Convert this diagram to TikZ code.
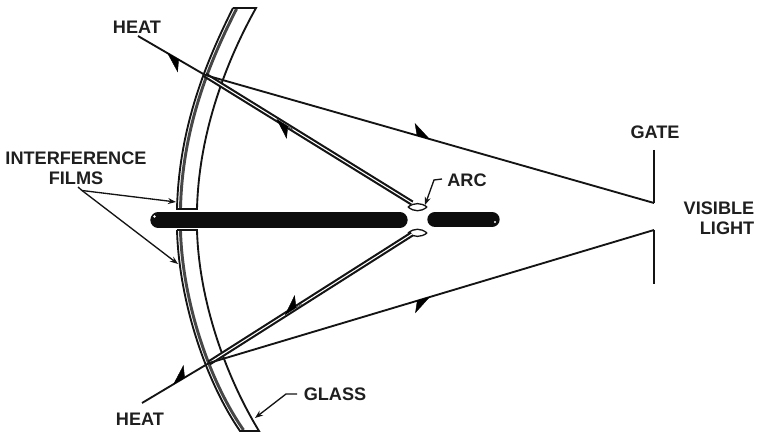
\documentclass[tikz,border=0pt]{standalone}
\usepackage{fontspec}
\setmainfont{Liberation Sans}
\usetikzlibrary{arrows.meta,calc}
\tikzset{
  x=0.75pt,y=-0.75pt,
  ink/.style={line width=1.4pt,black!92},
  thin ink/.style={line width=1pt,black!92},
  lab/.style={font=\fontsize{13.6}{15}\selectfont\bfseries,align=center,inner sep=0pt,text=black!88},
  tip/.style={-{Stealth[length=6pt,width=4.5pt]}},
  film/.style={line width=2.2pt,black!72},
  twin/.style={double=white,double distance=0.8pt,line width=1.6pt,black!92},
  barb/.style={line width=0.3pt,-{Stealth[harpoon,length=14pt,width=17pt,inset=4pt]}},
  barbs/.style={line width=0.3pt,-{Stealth[harpoon,swap,length=14pt,width=17pt,inset=4pt]}}
}
\begin{document}
\begin{tikzpicture}
\useasboundingbox (0,0) rectangle (762,434);
\coordinate (ta) at (233,8); \coordinate (tb) at (256,8);
\coordinate (tc) at (197,209); \coordinate (td) at (177,209);
\coordinate (ba) at (177,230); \coordinate (bb) at (197,230);
\coordinate (bc) at (259,431); \coordinate (bd) at (240,431);
\coordinate (hot) at (205,75); \coordinate (hob) at (209,363);
\coordinate (heatT) at (138,36); \coordinate (heatB) at (142,403);
\coordinate (gt0) at (654,150); \coordinate (gt1) at (654,203);
\coordinate (gb0) at (654,230); \coordinate (gb1) at (654,284);
\coordinate (arcT) at (412,203); \coordinate (arcB) at (412,234);
% mirrors
\draw[film] (236.5,9) .. controls (211.5,58) and (182.5,125) .. (180.5,208);
\draw[film] (180.5,231) .. controls (182.5,300) and (208.5,380) .. (243.5,430);
\draw[ink] (ta) -- (tb) .. controls (228,58) and (199,130) .. (tc) -- (td) .. controls (179,125) and (208,58) .. (ta);
\draw[ink] (ba) -- (bb) .. controls (199,300) and (225,375) .. (bc) -- (bd) .. controls (205,380) and (179,300) .. (ba);
% rods
\draw[line width=11.5pt,line cap=round,black!95] (158,220) -- (400,220);
\draw[line width=11.5pt,line cap=round,black!95] (435,219.5) -- (492,219.5);
\fill[white] (154.5,216.5) circle (1.4);
\fill[white] (495,222) circle (1.2);
% arc shields
\draw[thin ink] (408,207) .. controls (414,202.5) and (421,202.5) .. (427,207);
\draw[thin ink] (408,207) .. controls (414,212) and (421,212) .. (427,207);
\draw[thin ink] (408,233) .. controls (414,237.5) and (421,237.5) .. (427,233);
\draw[thin ink] (408,233) .. controls (414,228) and (421,228) .. (427,233);
% rays
\draw[twin] (hot) -- (arcT);
\draw[twin] (hob) -- (arcB);
\draw[ink] (heatT) -- (hot);
\draw[ink] (heatB) -- (hob);
\draw[ink] (hot) -- (gt1);
\draw[ink] (hob) -- (gb0);
\draw[ink] (gt0) -- (gt1);
\draw[ink] (gb0) -- (gb1);
% arrowheads
\draw[barb] ($(hot)!0.307!(heatT)$) -- ($(hot)!0.567!(heatT)$);
\draw[barb] ($(arcT)!0.575!(hot)$) -- ($(arcT)!0.655!(hot)$);
\draw[barbs] ($(hob)!0.277!(heatB)$) -- ($(hob)!0.537!(heatB)$);
\draw[barbs] ($(arcB)!0.544!(hob)$) -- ($(arcB)!0.627!(hob)$);
\draw[barb] ($(hot)!0.45!(gt1)$) -- ($(hot)!0.501!(gt1)$);
\draw[barbs] ($(hob)!0.45!(gb0)$) -- ($(hob)!0.497!(gb0)$);
% labels
\node[lab] (heat1) at (137,27) {HEAT};
\node[lab] (heat2) at (140,419) {HEAT};
\node[lab] (gate) at (655,132) {GATE};
\node[lab,align=right] (vis) at (719,218) {VISIBLE\\LIGHT};
\node[lab] (arc) at (467,180) {ARC};
\node[lab] (glass) at (335,394) {GLASS};
\node[lab] (int) at (76,168) {INTERFERENCE\\FILMS};
% leaders
\coordinate (k1) at (442,179); \coordinate (k2) at (434,180); \coordinate (k3) at (425,205);
\draw[thin ink,tip] (k1) -- (k2) -- (k3);
\coordinate (g1) at (297,394); \coordinate (g2) at (286,394); \coordinate (g3) at (255,418);
\draw[thin ink,tip] (g1) -- (g2) -- (g3);
\coordinate (f0) at (78,187); \coordinate (f00) at (82,190.5); \coordinate (f1) at (176,202); \coordinate (f2) at (178,264);
\draw[thin ink] (f0) -- (f00);
\draw[thin ink,tip] (f00) -- (f1);
\draw[thin ink,tip] (f00) -- (f2);
\end{tikzpicture}
\end{document}
